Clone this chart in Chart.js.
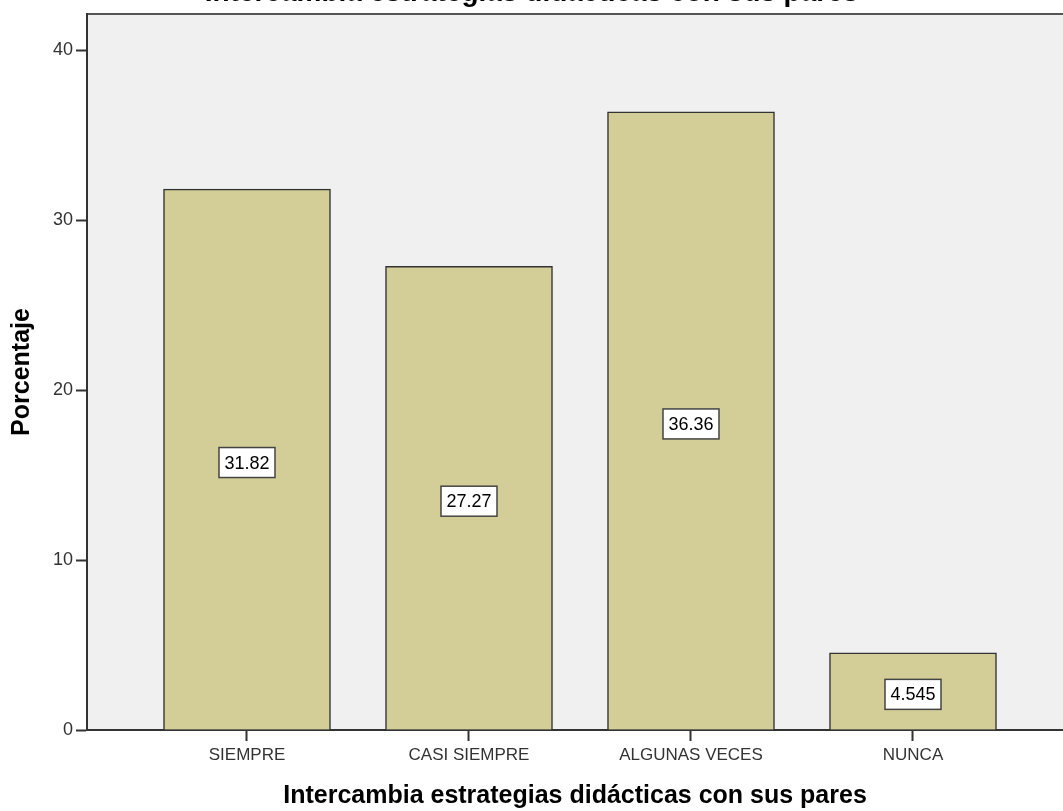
<!DOCTYPE html>
<html>
<head>
<meta charset="utf-8">
<script src="https://cdn.jsdelivr.net/npm/chart.js@4.4.1/dist/chart.umd.min.js"></script>
<style>
  body { margin: 0; background: #fff; }
  #wrap { width: 1063px; height: 811px; }
</style>
</head>
<body>
<div id="wrap"><canvas id="c"></canvas></div>
<script>
// values
const categories = ['SIEMPRE', 'CASI SIEMPRE', 'ALGUNAS VECES', 'NUNCA'];
const percentages = [31.82, 27.27, 36.36, 4.545];
const labelsText = ['31.82', '27.27', '36.36', '4.545'];
const yTicks = [0, 10, 20, 30, 40];

const titleText = 'Intercambia estrategias didácticas con sus pares';
const barFill = '#D3CE97';
const dark = '#333333';

// plot background + top frame line
const plotFrame = {
    id: 'plotFrame',
    beforeDraw(chart) {
        const a = chart.chartArea, ctx = chart.ctx;
        ctx.save();
        ctx.fillStyle = '#F0F0F0';
        ctx.fillRect(a.left, a.top, a.right - a.left, a.bottom - a.top);
        ctx.strokeStyle = '#555';
        ctx.lineWidth = 2;
        ctx.beginPath();
        ctx.moveTo(a.left, a.top);
        ctx.lineTo(a.right, a.top);
        ctx.stroke();
        ctx.restore();
    }
};

// boxed value labels in the middle of each bar
const boxLabels = {
    id: 'boxLabels',
    afterDatasetsDraw(chart) {
        const ctx = chart.ctx;
        const y = chart.scales.y;
        const meta = chart.getDatasetMeta(0);
        ctx.save();
        ctx.font = '18px "Liberation Sans", Arial, sans-serif';
        ctx.textAlign = 'center';
        ctx.textBaseline = 'middle';
        meta.data.forEach((bar, i) => {
            const cx = bar.x;
            const cy = y.getPixelForValue(percentages[i] / 2) + 3;
            const w = 56, h = 30;
            ctx.fillStyle = '#fff';
            ctx.fillRect(cx - w / 2, cy - h / 2, w, h);
            ctx.strokeStyle = '#444';
            ctx.lineWidth = 1.5;
            ctx.strokeRect(cx - w / 2, cy - h / 2, w, h);
            ctx.fillStyle = '#000';
            ctx.fillText(labelsText[i], cx, cy + 1);
        });
        ctx.restore();
    }
};

new Chart(document.getElementById('c'), {
    type: 'bar',
    data: {
        datasets: [{
            data: percentages.map((v, i) => ({ x: i, y: v })),
            backgroundColor: barFill,
            borderColor: dark,
            borderWidth: 1.5,
            barThickness: 167
        }]
    },
    options: {
        responsive: true,
        maintainAspectRatio: false,
        animation: false,
        layout: { padding: 0 },
        plugins: {
            legend: { display: false },
            tooltip: { enabled: false },
            title: {
                display: true,
                text: titleText,
                color: '#000',
                font: { family: '"Liberation Sans", Arial, sans-serif', size: 28, weight: 'bold', lineHeight: 1 },
                padding: { top: -21, bottom: 7 }
            }
        },
        scales: {
            x: {
                type: 'linear',
                offset: false,
                min: -0.7207,
                max: 3.6757,
                afterBuildTicks(scale) { scale.ticks = categories.map((c, i) => ({ value: i })); },
                afterFit(scale) { scale.height = 81; },
                ticks: {
                    callback: (v) => categories[v],
                    color: dark,
                    padding: 4,
                    maxRotation: 0,
                    font: { family: '"Liberation Sans", Arial, sans-serif', size: 17 }
                },
                grid: { offset: false, drawOnChartArea: false, drawTicks: true, tickLength: 11, tickWidth: 2, tickColor: dark },
                border: { display: true, color: dark, width: 2 },
                title: {
                    display: true,
                    text: titleText,
                    color: '#000',
                    padding: 0,
                    font: { family: '"Liberation Sans", Arial, sans-serif', size: 25, weight: 'bold', lineHeight: 1.2 }
                }
            },
            y: {
                min: 0,
                max: 42.118,
                afterBuildTicks(scale) { scale.ticks = yTicks.map(v => ({ value: v })); },
                afterFit(scale) { scale.width = 87; },
                ticks: {
                    color: dark,
                    padding: 3,
                    font: { family: '"Liberation Sans", Arial, sans-serif', size: 18 }
                },
                grid: { drawOnChartArea: false, drawTicks: true, tickLength: 11, tickWidth: 2, tickColor: dark },
                border: { display: true, color: dark, width: 2 },
                title: {
                    display: true,
                    text: 'Porcentaje',
                    color: '#000',
                    padding: { top: 7, bottom: 0 },
                    font: { family: '"Liberation Sans", Arial, sans-serif', size: 25, weight: 'bold', lineHeight: 1.2 }
                }
            }
        }
    },
    plugins: [plotFrame, boxLabels]
});
</script>
</body>
</html>
